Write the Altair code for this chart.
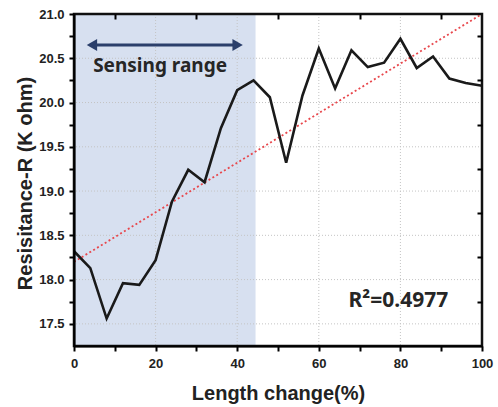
import altair as alt
import pandas as pd

# ---- data ----
length_pct = [0, 4, 8, 12, 16, 20, 24, 28, 32, 36, 40, 44, 48, 52, 56, 60,
              64, 68, 72, 76, 80, 84, 88, 92, 96, 100]
resistance = [18.32, 18.13, 17.56, 17.96, 17.94, 18.22, 18.88, 19.24, 19.10,
              19.71, 20.14, 20.25, 20.06, 19.32, 20.08, 20.61, 20.16, 20.59,
              20.40, 20.45, 20.72, 20.39, 20.52, 20.27, 20.22, 20.19]

fit_x = [0, 100]
fit_y = [18.2, 21.0]

region_x = [0]
region_x2 = [44.5]

x_domain = [0, 100]
y_domain = [17.25, 21.0]

arrow_x = [4.4, 40.1]
arrow_y = [20.65, 20.65]
arrow_shapes = ["triangle-left", "triangle-right"]

label_text = ["Sensing range"]
label_x = [21.1]
label_y = [20.347]

r2_text = ["R\u00b2=0.4977"]
r2_x = [79.5]
r2_y = [17.69]

x_ticks = [0, 10, 20, 30, 40, 50, 60, 70, 80, 90, 100]
x_minor = [10, 30, 50, 70, 90]
y_ticks = [17.5, 17.75, 18.0, 18.25, 18.5, 18.75, 19.0, 19.25, 19.5, 19.75,
           20.0, 20.25, 20.5, 20.75, 21.0]
y_minor = [17.75, 18.25, 18.75, 19.25, 19.75, 20.25, 20.75]
grid_x = [20, 40, 60, 80]
grid_y = [17.5, 18.0, 18.5, 19.0, 19.5, 20.0, 20.5]

W, H = 408, 332

df = pd.DataFrame({"x": length_pct, "y": resistance})
fit_df = pd.DataFrame({"x": fit_x, "y": fit_y})
reg_df = pd.DataFrame({"x": region_x, "x2": region_x2,
                       "y": [y_domain[0]], "y2": [y_domain[1]]})
frame_df = pd.DataFrame({"x": [x_domain[0]], "x2": [x_domain[1]],
                         "y": [y_domain[0]], "y2": [y_domain[1]]})
gx_df = pd.DataFrame({"x": grid_x})
gy_df = pd.DataFrame({"y": grid_y})
arr_df = pd.DataFrame({"x": arrow_x, "y": arrow_y, "shape": arrow_shapes})
arr_line_df = pd.DataFrame({"x": [arrow_x[0]], "x2": [arrow_x[1]], "y": [arrow_y[0]]})
lab_df = pd.DataFrame({"x": label_x, "y": label_y, "t": label_text})
r2_df = pd.DataFrame({"x": r2_x, "y": r2_y, "t": r2_text})

xs = alt.Scale(domain=x_domain, nice=False, zero=False)
ys = alt.Scale(domain=y_domain, nice=False, zero=False)

FONT = "Liberation Sans"

bottom_axis = alt.Axis(
    orient="bottom", values=x_ticks, title="Length change(%)",
    labelExpr="datum.value % 20 == 0 ? datum.label : ''",
    labelOverlap=False, labelFlush=False,
    labelFont=FONT, labelFontSize=13, labelFontWeight="bold", labelColor="#222",
    labelPadding=6, tickSize=5, tickWidth=2, tickColor="black",
    domainColor="black", domainWidth=2, grid=False,
    titleFont=FONT, titleFontSize=20, titleFontWeight="bold", titleColor="#222",
    titleBaseline="alphabetic", titleY=53, zindex=1,
)

left_axis = alt.Axis(
    orient="left", values=y_ticks, title="Resisitance-R (K ohm)",
    labelExpr="abs(datum.value*2 - round(datum.value*2)) < 0.001 ? format(datum.value, '.1f') : ''",
    labelOverlap=False, labelFlush=False,
    labelFont=FONT, labelFontSize=13, labelFontWeight="bold", labelColor="#222",
    labelPadding=5, tickSize=5, tickWidth=2, tickColor="black",
    domainColor="black", domainWidth=2, grid=False,
    titleFont=FONT, titleFontSize=20, titleFontWeight="bold", titleColor="#222",
    titleBaseline="alphabetic", titleX=-43, titleY=169, zindex=1,
)

top_axis = alt.Axis(orient="top", values=x_minor, title=None, labels=False,
                    domain=False, grid=False, offset=-5, tickSize=5, tickWidth=2,
                    tickColor="black", zindex=2)
right_axis = alt.Axis(orient="right", values=y_minor, title=None, labels=False,
                      domain=False, grid=False, offset=-5, tickSize=5, tickWidth=2,
                      tickColor="black", zindex=2)

region = alt.Chart(reg_df).mark_rect(color="#d7e0f0").encode(
    x=alt.X("x:Q", scale=xs, axis=top_axis),
    x2="x2:Q",
    y=alt.Y("y:Q", scale=ys, axis=None),
    y2="y2:Q",
)

grid_v = alt.Chart(gx_df).mark_rule(color="#c4c4c4", strokeWidth=1,
                                    strokeDash=[1, 2]).encode(
    x=alt.X("x:Q", scale=xs, axis=None),
)
grid_h = alt.Chart(gy_df).mark_rule(color="#c4c4c4", strokeWidth=1,
                                    strokeDash=[1, 2]).encode(
    y=alt.Y("y:Q", scale=ys, axis=None),
)

fit = alt.Chart(fit_df).mark_line(color="#e8474c", strokeDash=[2, 2.5],
                                  strokeWidth=1.8).encode(
    x=alt.X("x:Q", scale=xs, axis=None),
    y=alt.Y("y:Q", scale=ys, axis=right_axis),
)

line = alt.Chart(df).mark_line(color="#1a1a1a", strokeWidth=2.6,
                               strokeJoin="miter").encode(
    x=alt.X("x:Q", scale=xs, axis=bottom_axis),
    y=alt.Y("y:Q", scale=ys, axis=left_axis),
)

arrow_line = alt.Chart(arr_line_df).mark_rule(color="#2b3f6b", strokeWidth=3).encode(
    x=alt.X("x:Q", scale=xs, axis=None),
    x2="x2:Q",
    y=alt.Y("y:Q", scale=ys, axis=None),
)

arrow_heads = alt.Chart(arr_df).mark_point(filled=True, opacity=1, color="#2b3f6b",
                                           size=144).encode(
    x=alt.X("x:Q", scale=xs, axis=None),
    y=alt.Y("y:Q", scale=ys, axis=None),
    shape=alt.Shape("shape:N", scale=None, legend=None),
)

label = alt.Chart(lab_df).mark_text(font="Noto Sans", fontSize=19, fontWeight="bold",
                                    color="#262626", align="center",
                                    baseline="alphabetic").encode(
    x=alt.X("x:Q", scale=xs, axis=None),
    y=alt.Y("y:Q", scale=ys, axis=None),
    text="t:N",
)

r2 = alt.Chart(r2_df).mark_text(font="Noto Sans", fontSize=21, fontWeight="bold",
                                color="#262626", align="center",
                                baseline="alphabetic").encode(
    x=alt.X("x:Q", scale=xs, axis=None),
    y=alt.Y("y:Q", scale=ys, axis=None),
    text="t:N",
)

frame = alt.Chart(frame_df).mark_rect(filled=False, stroke="#111111", strokeWidth=2.5,
                                      fillOpacity=0).encode(
    x=alt.X("x:Q", scale=xs, axis=None),
    x2="x2:Q",
    y=alt.Y("y:Q", scale=ys, axis=None),
    y2="y2:Q",
)

chart = alt.layer(region, grid_v, grid_h, fit, line, arrow_line, arrow_heads,
                  label, r2, frame).resolve_axis(
    x="independent", y="independent"
).properties(
    width=W, height=H,
    autosize=alt.AutoSizeParams(type="none"),
    padding={"left": 74, "top": 14, "right": 16, "bottom": 61},
    background="white",
).configure_view(stroke="black", strokeWidth=2)

chart.save("out.html", embed_options={"renderer": "svg", "actions": False})
